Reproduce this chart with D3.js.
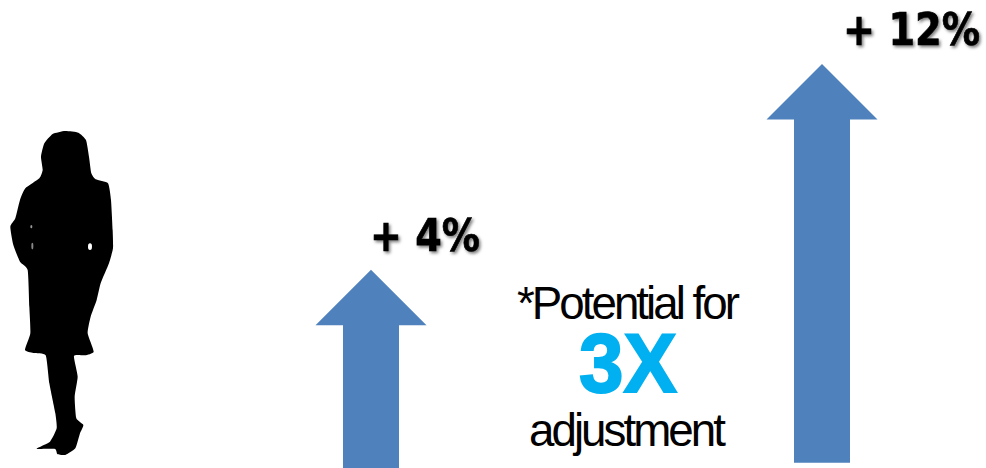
<!DOCTYPE html>
<html>
<head>
<meta charset="utf-8">
<script src="https://cdnjs.cloudflare.com/ajax/libs/d3/7.8.5/d3.min.js"></script>
<style>
html,body{margin:0;padding:0;background:#fff;}
svg{display:block;}
</style>
</head>
<body>
<svg id="chart" width="986" height="468"></svg>
<script>
// Uplift percentages and the value each arrow's shaft starts from
const categories = ["Lower uplift", "Higher uplift"];
const upliftValues = [4, 12];
const shaftStartValues = [-3.7, -3.5];
const upliftLabels = ["+ 4%", "+ 12%"];
const noteLines = ["*Potential for", "3X", "adjustment"];

// Figure outline, traced in a 390x1044 drawing box
const figureOutline = [[195,33],[235,38],[258,60],[267,110],[274,160],[287,178],[324,190],[333,240],[338,330],[339,385],[327,430],[302,490],[290,540],[272,590],[263,640],[281,695],[255,706],[222,708],[233,770],[224,830],[229,895],[250,915],[240,940],[226,985],[196,1005],[172,1002],[165,987],[110,986],[150,965],[170,925],[166,880],[148,790],[137,706],[100,699],[75,690],[91,640],[88,560],[83,450],[60,425],[40,375],[31,320],[46,295],[60,240],[76,205],[118,175],[128,150],[123,110],[133,70],[158,42]];
const figureGaps = [[270,380,6,10,"#fff"],[94,320,3,5,"#999"],[97,378,3,10,"#888"]];

const svg = d3.select("#chart");

const defs = svg.append("defs");
defs.append("filter").attr("id", "labelShadow")
  .attr("x", "-10%").attr("y", "-20%").attr("width", "125%").attr("height", "150%")
  .append("feDropShadow")
  .attr("dx", 2).attr("dy", 2).attr("stdDeviation", 1.6)
  .attr("flood-color", "#000").attr("flood-opacity", 0.5);
defs.append("filter").attr("id", "soften")
  .append("feGaussianBlur").attr("stdDeviation", 2.2);

// Scales
const y = d3.scaleLinear().domain([-3.7, 12]).range([468, 64]);
const x = d3.scaleOrdinal().domain(categories).range([371, 822]);

// Arrow proportions
const headHalf = 55.5, headHeight = 55.5, shaftHalf = 28;

const arrowPath = (cx, tip, base) => {
  const p = d3.path();
  p.moveTo(cx, tip);
  p.lineTo(cx + headHalf, tip + headHeight);
  p.lineTo(cx + shaftHalf, tip + headHeight);
  p.lineTo(cx + shaftHalf, base);
  p.lineTo(cx - shaftHalf, base);
  p.lineTo(cx - shaftHalf, tip + headHeight);
  p.lineTo(cx - headHalf, tip + headHeight);
  p.closePath();
  return p.toString();
};

svg.append("g").selectAll("path")
  .data(categories)
  .join("path")
  .attr("d", (c, i) => arrowPath(x(c), y(upliftValues[i]), y(shaftStartValues[i])))
  .attr("fill", "#4f81bd");

// Squeezes a text run horizontally so it spans exactly the given width
function fitWidth(sel, anchors) {
  sel.attr("transform", function(d, i) {
    const a = anchors[i];
    return `translate(${a.x},${a.y}) scale(${a.len / this.getComputedTextLength()},1)`;
  });
}

// Uplift labels above the arrows
const labelAnchors = [{x: 370, y: 251, len: 110}, {x: 843, y: 45, len: 137}];
svg.append("g").selectAll("text")
  .data(upliftLabels)
  .join("text")
  .attr("font-family", "'DejaVu Sans', sans-serif")
  .attr("font-weight", 700)
  .attr("font-size", 45)
  .attr("fill", "#000")
  .attr("stroke", "#000")
  .attr("stroke-width", 0.7)
  .attr("filter", "url(#labelShadow)")
  .text(d => d)
  .call(fitWidth, labelAnchors);

// Centre note, set tight
const noteStyles = [
  {x: 517, y: 319, len: 220, size: 46, weight: 400, fill: "#000", track: -3},
  {x: 579, y: 392, len: 98, size: 84, weight: 700, fill: "#00b0f0", track: 0},
  {x: 529, y: 446, len: 194, size: 46, weight: 400, fill: "#000", track: -3}
];
svg.append("g").selectAll("text")
  .data(noteLines)
  .join("text")
  .attr("font-family", "'Liberation Sans', Arial, sans-serif")
  .attr("font-size", (d, i) => noteStyles[i].size)
  .attr("font-weight", (d, i) => noteStyles[i].weight)
  .attr("letter-spacing", (d, i) => noteStyles[i].track)
  .attr("fill", (d, i) => noteStyles[i].fill)
  .attr("stroke", (d, i) => noteStyles[i].fill)
  .attr("stroke-width", (d, i) => i === 1 ? 2 : 0)
  .text(d => d)
  .call(fitWidth, noteStyles);

// Standing figure on the left
const fig = svg.append("g")
  .attr("transform", "translate(0,120) scale(0.3333)")
  .attr("filter", "url(#soften)");
fig.append("path")
  .attr("d", d3.line().curve(d3.curveCardinalClosed.tension(0.5))(figureOutline))
  .attr("fill", "#000");
fig.selectAll("ellipse")
  .data(figureGaps)
  .join("ellipse")
  .attr("cx", d => d[0]).attr("cy", d => d[1])
  .attr("rx", d => d[2]).attr("ry", d => d[3])
  .attr("fill", d => d[4]);
</script>
</body>
</html>
